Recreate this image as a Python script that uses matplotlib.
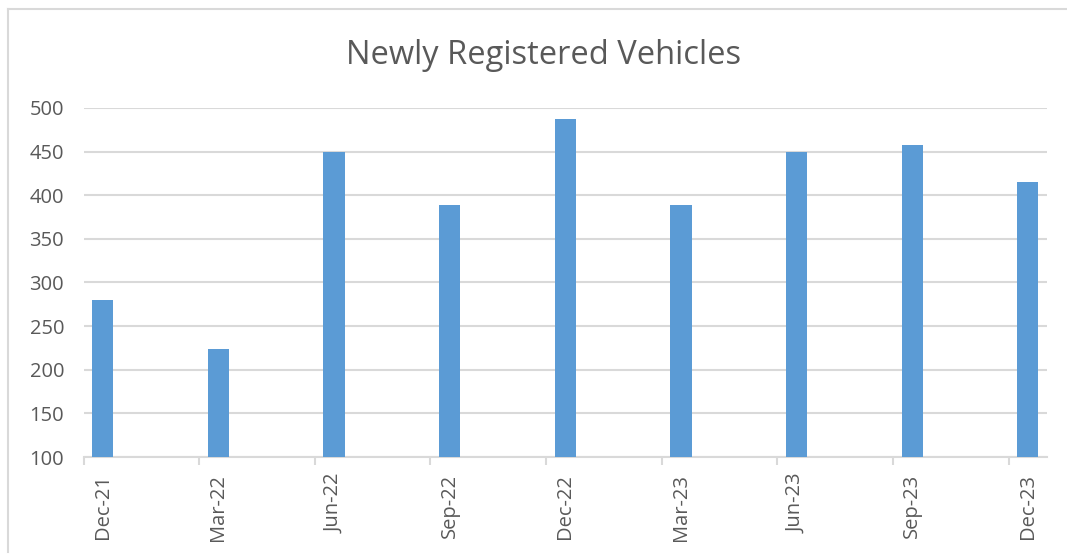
import matplotlib
matplotlib.use("Agg")
import matplotlib.pyplot as plt
import pandas as pd
from matplotlib.lines import Line2D

categories = ["Dec-21", "Mar-22", "Jun-22", "Sep-22", "Dec-22",
              "Mar-23", "Jun-23", "Sep-23", "Dec-23"]
values = [280, 224, 450, 389, 487, 389, 449, 457, 415]
y_ticks = [100, 150, 200, 250, 300, 350, 400, 450, 500]
title = "Newly Registered Vehicles"

plt.rcParams['font.family'] = ['Open Sans', 'DejaVu Sans']

dates = pd.to_datetime(categories, format="%b-%y")
start = dates[0]
pos = [(d.year - start.year) * 12 + (d.month - start.month) for d in dates]
n_months = pos[-1] + 1

fig = plt.figure(figsize=(10.67, 5.56), dpi=100)
ax = fig.add_axes([0.0783, 0.178, 0.9030, 0.6280])

bar_color = "#5b9bd5"
ax.bar(pos, values, width=0.55, bottom=0, color=bar_color, zorder=3)

ax.set_xlim(-0.5, n_months - 0.5)
ax.set_ylim(y_ticks[0], y_ticks[-1])
ax.set_yticks(y_ticks)
ax.set_yticklabels([str(v) for v in y_ticks])
ax.set_xticks(pos)
ax.set_xticklabels(categories, rotation=90)
ax.set_xticks([p - 0.5 for p in pos], minor=True)

grid_c = "#d9d9d9"
ax.grid(axis='y', color=grid_c, linewidth=1.5, zorder=0)
for s in ['top', 'right', 'left']:
    ax.spines[s].set_visible(False)
ax.spines['bottom'].set_color(grid_c)
ax.spines['bottom'].set_linewidth(1.5)

ax.tick_params(axis='y', length=0, pad=14, labelsize=14.5, labelcolor="#595959")
ax.tick_params(axis='x', which='major', length=0, pad=12, labelsize=14.5, labelcolor="#595959")
ax.tick_params(axis='x', which='minor', length=6, width=1.5, color=grid_c, direction='out')

fig.text(544 / 1067, 1 - 56 / 556, title, ha='center', va='center', fontsize=23.5, color="#595959")

# chart area border (left and top)
fig.add_artist(Line2D([8 / 1067, 8 / 1067], [1 - 9 / 556, 1 - 552 / 556],
                      transform=fig.transFigure, color="#d9d9d9", linewidth=1.5))
fig.add_artist(Line2D([8 / 1067, 1.0], [1 - 9 / 556, 1 - 9 / 556],
                      transform=fig.transFigure, color="#d9d9d9", linewidth=1.5))

fig.savefig("out.png", dpi=100, facecolor="white")
